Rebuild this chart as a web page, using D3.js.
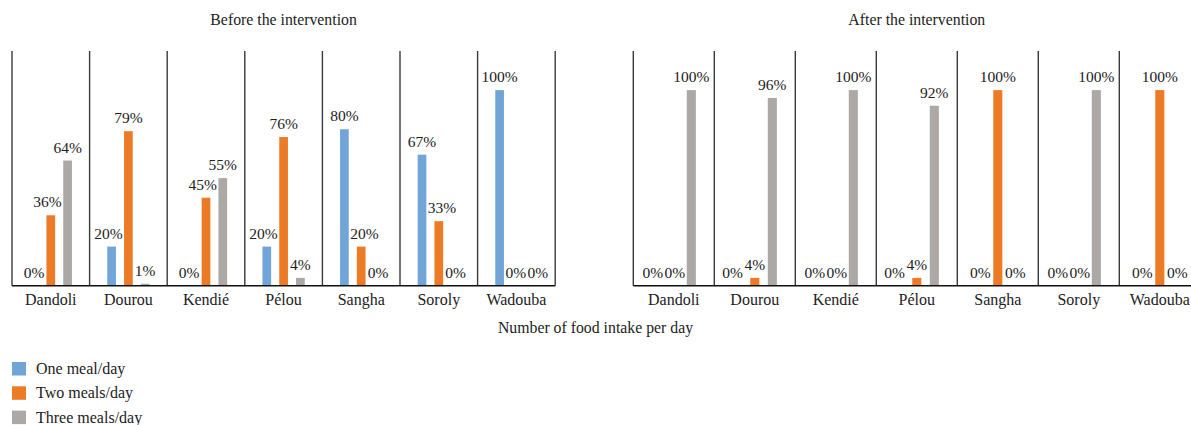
<!DOCTYPE html>
<html>
<head>
<meta charset="utf-8">
<script src="https://cdn.jsdelivr.net/npm/d3@7"></script>
<style>
  html, body { margin: 0; padding: 0; background: #fff; }
  svg { display: block; }
  text { font-family: "Liberation Serif", "DejaVu Serif", serif; fill: #222; }
</style>
</head>
<body>
<svg id="chart" width="1191" height="425"></svg>
<script>
// Villages surveyed
const categories = ["Dandoli", "Dourou", "Kendié", "Pélou", "Sangha", "Soroly", "Wadouba"];
const seriesNames = ["One meal/day", "Two meals/day", "Three meals/day"];
const seriesColors = ["#71a5d7", "#ed7b25", "#aca8a6"];

// Share of households (%) by number of meals per day, before the intervention
const beforeOne   = [0, 20, 0, 20, 80, 67, 100];
const beforeTwo   = [36, 79, 45, 76, 20, 33, 0];
const beforeThree = [64, 1, 55, 4, 0, 0, 0];

// ... and after the intervention
const afterOne   = [0, 0, 0, 0, 0, 0, 0];
const afterTwo   = [0, 4, 0, 4, 100, 0, 100];
const afterThree = [100, 96, 100, 92, 0, 100, 0];

const panelTitles = ["Before the intervention", "After the intervention"];
const axisTitle = "Number of food intake per day";

const svg = d3.select("#chart");

const baseY = 285.7, topY = 51;
const y = d3.scaleLinear().domain([0, 120]).range([baseY, topY]);
const fmt = v => d3.format(".0f")(v) + "%";
const valueFont = 15.5;

const panels = [
  { title: panelTitles[0], x0: 12, x1: 555.2, series: [beforeOne, beforeTwo, beforeThree] },
  { title: panelTitles[1], x0: 633.3, x1: 1200.3, series: [afterOne, afterTwo, afterThree] }
];

panels.forEach(p => {
  const g = svg.append("g");
  const x = d3.scaleBand().domain(categories).range([p.x0, p.x1]).padding(0);
  const inner = d3.scalePoint().domain(d3.range(seriesNames.length))
    .range([0, x.bandwidth()]).padding(1.31);
  const barW = x.bandwidth() * 0.112;

  // category separators
  const bounds = categories.map(c => x(c)).concat([p.x1]);
  g.selectAll("line.sep").data(bounds).join("line")
    .attr("class", "sep")
    .attr("x1", d => d).attr("x2", d => d)
    .attr("y1", topY).attr("y2", baseY)
    .attr("stroke", "#3a3a3a").attr("stroke-width", 1.4);

  // bars and value labels
  const rows = [];
  p.series.forEach((vals, si) => {
    vals.forEach((v, ci) => rows.push({
      si, ci, cat: categories[ci], v,
      cx: x(categories[ci]) + inner(si)
    }));
  });

  g.selectAll("rect.bar").data(rows).join("rect")
    .attr("class", "bar")
    .attr("x", d => d.cx - barW / 2)
    .attr("width", barW)
    .attr("y", d => y(d.v))
    .attr("height", d => baseY - y(d.v))
    .attr("fill", d => seriesColors[d.si]);

  const labels = g.selectAll("text.val").data(rows).join("text")
    .attr("class", "val")
    .attr("y", d => y(d.v) - 8)
    .attr("text-anchor", "middle")
    .attr("font-size", valueFont)
    .text(d => fmt(d.v));

  // keep neighbouring value labels from colliding with each other or with bars
  labels.each(function (d) { d.w = this.getComputedTextLength(); d.lx = d.cx; d.by = y(d.v) - 8; });
  const gap = 1.5;
  const capH = valueFont * 0.72;
  d3.group(rows, d => d.ci).forEach(list => {
    list.sort((a, b) => a.si - b.si);
    for (let iter = 0; iter < 60; iter++) {
      for (let i = 0; i < list.length - 1; i++) {
        const a = list[i], b = list[i + 1];
        const vOverlap = Math.abs(a.by - b.by) < capH;
        if (!vOverlap) continue;
        const ov = (a.lx + a.w / 2 + gap) - (b.lx - b.w / 2);
        if (ov > 0) {
          if (a.v > b.v) b.lx += ov;
          else if (b.v > a.v) a.lx -= ov;
          else { a.lx -= ov / 2; b.lx += ov / 2; }
        }
      }
      // bars of other series that reach into a label's line
      list.forEach(l => {
        list.forEach(bar => {
          if (bar === l) return;
          if (y(bar.v) > l.by) return;
          const bl = bar.cx - barW / 2, br = bar.cx + barW / 2;
          const ll = l.lx - l.w / 2, lr = l.lx + l.w / 2;
          if (lr + gap > bl && ll - gap < br) {
            if (l.cx >= bar.cx) l.lx = br + gap + l.w / 2;
            else l.lx = bl - gap - l.w / 2;
          }
        });
      });
    }
  });
  labels.attr("x", d => d.lx);

  // baseline
  g.append("line")
    .attr("x1", p.x0).attr("x2", p.x1)
    .attr("y1", baseY).attr("y2", baseY)
    .attr("stroke", "#111").attr("stroke-width", 1.6);

  // category labels
  g.selectAll("text.cat").data(categories).join("text")
    .attr("class", "cat")
    .attr("x", d => x(d) + x.bandwidth() / 2)
    .attr("y", 305)
    .attr("text-anchor", "middle")
    .attr("font-size", 16)
    .text(d => d);

  // panel title
  g.append("text")
    .attr("x", (p.x0 + p.x1) / 2)
    .attr("y", 25)
    .attr("text-anchor", "middle")
    .attr("font-size", 15.8)
    .text(p.title);
});

// shared axis title
svg.append("text")
  .attr("x", 595.5).attr("y", 333)
  .attr("text-anchor", "middle")
  .attr("font-size", 15.8)
  .text(axisTitle);

// legend
const legend = svg.append("g");
const items = legend.selectAll("g").data(seriesNames).join("g")
  .attr("transform", (d, i) => `translate(12, ${362 + i * 24.3})`);
items.append("rect")
  .attr("width", 14).attr("height", 13.5)
  .attr("fill", (d, i) => seriesColors[i]);
items.append("text")
  .attr("x", 24).attr("y", 12)
  .attr("font-size", 16)
  .text(d => d);
</script>
</body>
</html>
